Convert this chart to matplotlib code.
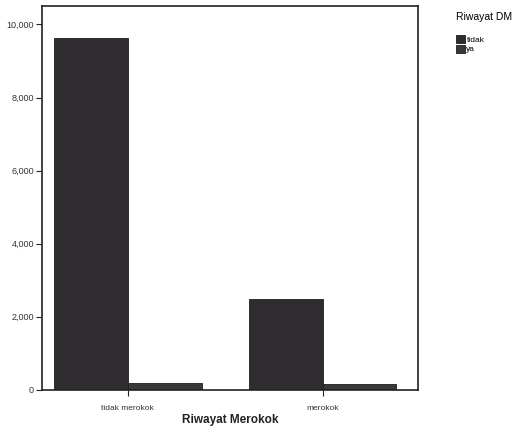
import matplotlib
matplotlib.use('Agg')
import matplotlib.pyplot as plt
import numpy as np

categories = ['tidak merokok', 'merokok']
series_names = ['tidak', 'ya']
tidak_values = [9620, 2490]
ya_values = [200, 160]
y_ticks = [0, 2000, 4000, 6000, 8000, 10000]
y_tick_labels = ['0', '2,000', '4,000', '6,000', '8,000', '10,000']

plt.rcParams['font.family'] = ['Liberation Sans', 'DejaVu Sans']

fig = plt.figure(figsize=(5.27, 4.42), dpi=100)
ax = fig.add_axes([0.080, 0.118, 0.713, 0.868])

x = np.arange(len(categories))
w = 0.38
ax.bar(x - w / 2, tidak_values, width=w, color='#2e2c2f', edgecolor='#1e1e20', linewidth=0.6, label=series_names[0])
ax.bar(x + w / 2, ya_values, width=w, color='#3a3839', edgecolor='#1e1e20', linewidth=0.6, label=series_names[1])

ax.set_xlim(-0.44, 1.49)
ax.set_ylim(0, 10500)
ax.set_xticks(x)
ax.set_xticklabels(categories, fontsize=6, color='#333333')
ax.set_yticks(y_ticks)
ax.set_yticklabels(y_tick_labels, fontsize=6.5, color='#333333')
ax.tick_params(axis='both', direction='out', length=4, width=0.8, color='#222222', pad=2)
ax.tick_params(axis='x', pad=7)
for s in ax.spines.values():
    s.set_linewidth(1.2)
    s.set_color('#222222')

ax.set_xlabel('Riwayat Merokok', fontsize=8.5, fontweight='bold', color='#222222', labelpad=1)

leg = fig.legend(loc='upper left', bbox_to_anchor=(0.855, 0.985), frameon=False,
                 title='Riwayat DM', fontsize=6, title_fontsize=7.5,
                 handlelength=1.0, handleheight=1.1, handletextpad=0.2,
                 labelspacing=0.1, borderpad=0.2)
leg._legend_box.align = 'left'
leg._legend_box.sep = 9

fig.savefig('out.png', dpi=100)
